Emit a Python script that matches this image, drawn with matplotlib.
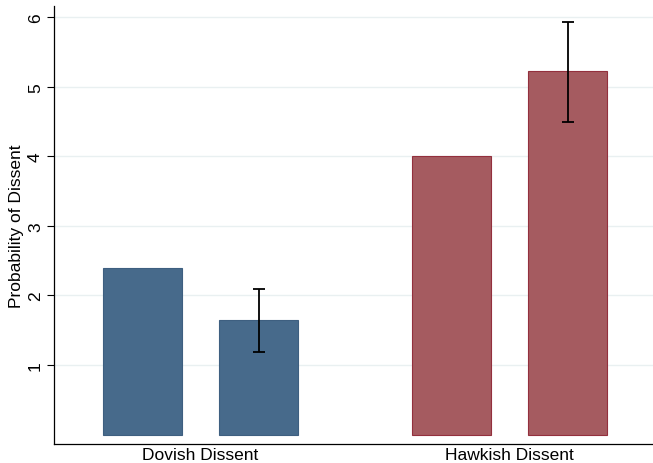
import matplotlib.pyplot as plt
import numpy as np

plt.rcParams['font.family'] = ['Liberation Sans', 'DejaVu Sans']

groups = ["Dovish Dissent", "Hawkish Dissent"]
first_vals = [2.40, 4.00]
second_vals = [1.646, 5.22]
second_lo = [1.187, 4.487]
second_hi = [2.096, 5.93]
colors = ["#476a8b", "#a55b60"]
edges = ["#3e5f80", "#93303d"]

fig = plt.figure(figsize=(6.53, 4.64), dpi=100)
ax = fig.add_axes([54 / 653, 1 - 445 / 464, 599 / 653, 438 / 464])

centers = np.arange(len(groups))
off = 0.1877
width = 0.2537

for i, c in enumerate(centers):
    ax.bar(c - off, first_vals[i], width=width, color=colors[i],
           edgecolor=edges[i], linewidth=0.8, zorder=2)
    ax.bar(c + off, second_vals[i], width=width, color=colors[i],
           edgecolor=edges[i], linewidth=0.8, zorder=2)
    err = [[second_vals[i] - second_lo[i]], [second_hi[i] - second_vals[i]]]
    ax.errorbar(c + off, second_vals[i], yerr=err, fmt="none", ecolor="black",
                elinewidth=1.3, capsize=4, capthick=1.3, zorder=3)

ax.set_xlim(-0.474, 1.464)
ax.set_ylim(-0.135, 6.16)
ax.set_yticks([1, 2, 3, 4, 5, 6])
ax.set_yticklabels(["1", "2", "3", "4", "5", "6"], rotation=90, va="center")
ax.set_xticks(centers)
ax.set_xticklabels(groups)
ax.tick_params(axis="x", length=0, labelsize=12.5, pad=2)
ax.tick_params(axis="y", length=5, width=0.8, labelsize=12.5, pad=3)
ax.set_ylabel("Probability of Dissent", fontsize=12.5, labelpad=3)
ax.yaxis.grid(True, color="#e9f0f1", linewidth=1.0, zorder=0)
ax.set_axisbelow(True)
for s in ["top", "right"]:
    ax.spines[s].set_visible(False)
ax.spines["left"].set_linewidth(0.9)
ax.spines["bottom"].set_linewidth(0.9)

fig.savefig("out.png", dpi=100)
